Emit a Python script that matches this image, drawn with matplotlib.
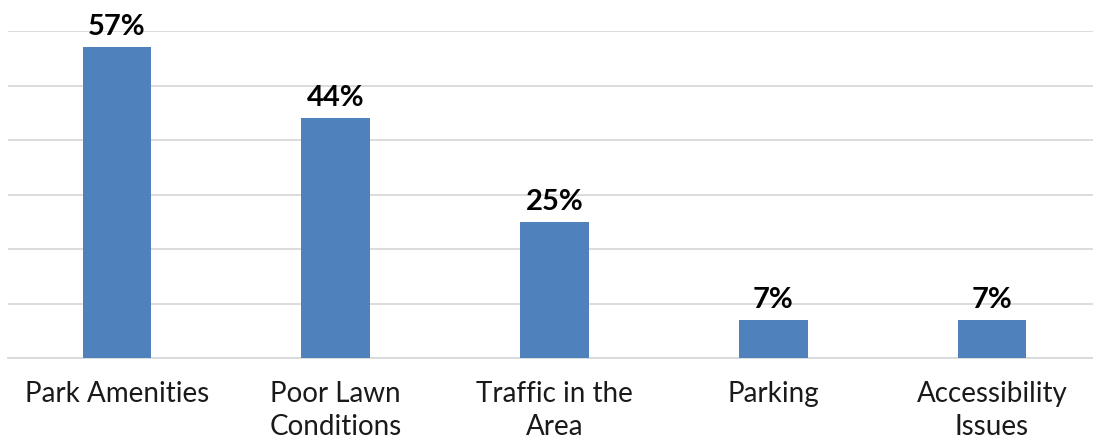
import matplotlib

matplotlib.use("Agg")
import matplotlib.pyplot as plt

categories = ["Park Amenities", "Poor Lawn\nConditions", "Traffic in the\nArea",
              "Parking", "Accessibility\nIssues"]
values = [57, 44, 25, 7, 7]
yticks = [0, 10, 20, 30, 40, 50, 60]

BAR = "#4F81BD"
GRID = "#D9D9D9"

plt.rcParams["font.family"] = ["Lato", "DejaVu Sans"]

fig = plt.figure(figsize=(10.93, 4.38), dpi=100)
# axes deliberately run a bit past the right edge, like the source
ax = fig.add_axes([7.6 / 1093, 80 / 438, 1093.8 / 1093, 327 / 438])

x = list(range(len(categories)))
bars = ax.bar(x, values, width=0.315, color=BAR, zorder=3)

for b, v in zip(bars, values):
    ax.annotate(f"{v}%", (b.get_x() + b.get_width() / 2, b.get_height()),
                xytext=(0, 5), textcoords="offset points",
                ha="center", va="bottom", fontsize=21, fontweight="bold",
                color="black")

ax.set_xlim(-0.5, len(categories) - 0.5)
ax.set_ylim(0, 60)
ax.set_yticks(yticks)
ax.yaxis.grid(True, color=GRID, lw=1.3, zorder=0)
ax.tick_params(left=False, labelleft=False, bottom=False)
ax.set_xticks(x)
ax.set_xticklabels(categories, fontsize=20, color="#1a1a1a", linespacing=1.32)
ax.tick_params(axis="x", pad=13)
for s in ["top", "right", "left"]:
    ax.spines[s].set_visible(False)
ax.spines["bottom"].set_color(GRID)
ax.spines["bottom"].set_linewidth(1.3)

fig.savefig("out.png", dpi=100)
